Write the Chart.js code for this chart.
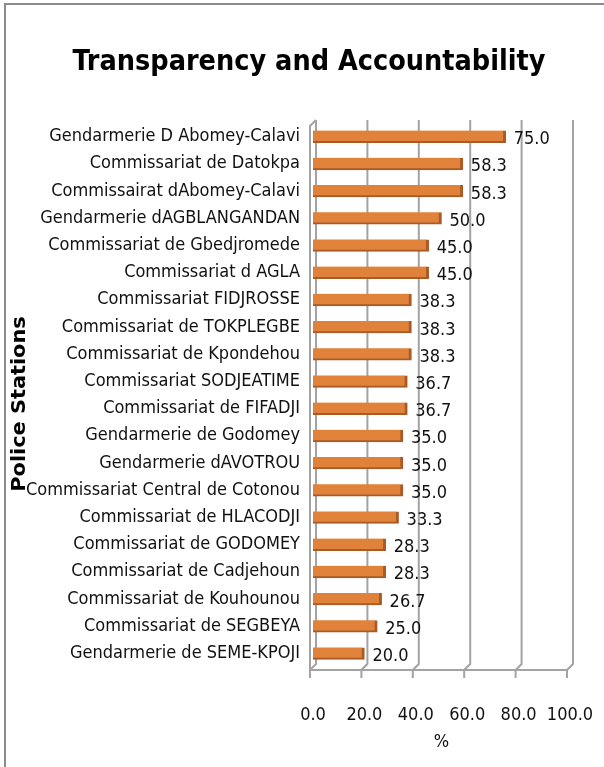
<!DOCTYPE html>
<html>
<head>
<meta charset="utf-8">
<script src="https://cdn.jsdelivr.net/npm/chart.js@4.4.0/dist/chart.umd.min.js"></script>
<style>
  html, body { margin: 0; padding: 0; background: #fff; }
  #wrap { width: 604px; height: 767px; }
</style>
</head>
<body>
<div id="wrap"><canvas id="myChart"></canvas></div>
<script>
var stations = [
  'Gendarmerie D Abomey-Calavi',
  'Commissariat de Datokpa',
  'Commissairat dAbomey-Calavi',
  'Gendarmerie dAGBLANGANDAN',
  'Commissariat de Gbedjromede',
  'Commissariat d AGLA',
  'Commissariat FIDJROSSE',
  'Commissariat de TOKPLEGBE',
  'Commissariat de Kpondehou',
  'Commissariat SODJEATIME',
  'Commissariat de FIFADJI',
  'Gendarmerie de Godomey',
  'Gendarmerie dAVOTROU',
  'Commissariat Central de Cotonou',
  'Commissariat de HLACODJI',
  'Commissariat de GODOMEY',
  'Commissariat de Cadjehoun',
  'Commissariat de Kouhounou',
  'Commissariat de SEGBEYA',
  'Gendarmerie de SEME-KPOJI'
];
var scores = [75.0, 58.3, 58.3, 50.0, 45.0, 45.0, 38.3, 38.3, 38.3, 36.7,
              36.7, 35.0, 35.0, 35.0, 33.3, 28.3, 28.3, 26.7, 25.0, 20.0];
var xTicks = [0, 20, 40, 60, 80, 100];
var chartTitle = 'Transparency and Accountability';
var yTitle = 'Police Stations';

var FONT = "'Liberation Sans Narrow', 'DejaVu Sans Condensed', sans-serif";
var GRID = '#a3a3a3';
var DEPTH = 3;

// frame, titles, 3d walls/floor and value labels
var excelLook = {
  id: 'excelLook',
  beforeDraw: function(chart) {
    var c = chart.ctx;
    c.save();
    c.strokeStyle = '#8c8c8c';
    c.lineWidth = 2;
    c.beginPath();
    c.moveTo(5, 767);
    c.lineTo(5, 4);
    c.lineTo(604, 4);
    c.stroke();

    c.fillStyle = '#000';
    c.textAlign = 'center';
    c.textBaseline = 'middle';
    c.font = 'bold 28.5px ' + FONT;
    c.fillText(chartTitle, 309, 63);

    // axis title, stretched along its length like the original
    c.translate(20, 404);
    c.rotate(-Math.PI / 2);
    c.scale(1.22, 1);
    c.font = 'bold 19px ' + FONT;
    c.fillText(yTitle, 0, 0);
    c.restore();
  },
  beforeDatasetsDraw: function(chart) {
    var c = chart.ctx, a = chart.chartArea, sx = chart.scales.x;
    var top = a.top, bot = a.bottom;
    c.save();
    c.strokeStyle = GRID;
    c.lineWidth = 2;
    xTicks.forEach(function(v) {
      var x = sx.getPixelForValue(v);
      c.beginPath();
      c.moveTo(x + DEPTH, top - DEPTH);
      c.lineTo(x + DEPTH, bot - DEPTH);
      c.lineTo(x - DEPTH, bot + DEPTH);
      c.lineTo(x - DEPTH, bot + DEPTH + 8);
      c.stroke();
    });
    var x0 = sx.getPixelForValue(0), x1 = sx.getPixelForValue(100);
    c.beginPath();
    c.moveTo(x0 - DEPTH, bot + DEPTH);
    c.lineTo(x1 - DEPTH, bot + DEPTH);
    c.stroke();
    // left wall
    c.beginPath();
    c.moveTo(x0 - DEPTH, bot + DEPTH);
    c.lineTo(x0 - DEPTH, top + DEPTH);
    c.lineTo(x0 + DEPTH, top - DEPTH);
    c.stroke();
    c.restore();
  },
  afterDatasetsDraw: function(chart) {
    var c = chart.ctx;
    var meta = chart.getDatasetMeta(0);
    c.save();
    c.fillStyle = '#111';
    c.font = '18px ' + FONT;
    c.textAlign = 'left';
    c.textBaseline = 'middle';
    meta.data.forEach(function(bar, i) {
      c.fillText(scores[i].toFixed(1), bar.x + 8, bar.y + 3);
    });
    c.restore();
  }
};

var ctx = document.getElementById('myChart').getContext('2d');
var myChart = new Chart(ctx, {
  type: 'bar',
  data: {
    labels: stations,
    datasets: [{
      label: chartTitle,
      data: scores,
      backgroundColor: '#e0823a',
      borderColor: '#a95a26',
      borderWidth: { top: 0, right: 3, bottom: 2, left: 0 },
      borderSkipped: false,
      barThickness: 12
    }]
  },
  options: {
    indexAxis: 'y',
    responsive: true,
    maintainAspectRatio: false,
    animation: false,
    layout: { padding: { top: 123, right: 34, bottom: 0, left: 0 } },
    plugins: {
      legend: { display: false },
      tooltip: { enabled: false },
      title: { display: false }
    },
    scales: {
      x: {
        min: 0,
        max: 100,
        afterFit: function(s) {
          s.height = 100;
          s.paddingLeft = 0;
          s.paddingRight = 0;
        },
        afterBuildTicks: function(s) {
          s.ticks = xTicks.map(function(v) { return { value: v }; });
        },
        grid: { display: false, drawTicks: false },
        border: { display: false },
        ticks: {
          padding: 38,
          maxRotation: 0,
          minRotation: 0,
          color: '#111',
          font: { family: FONT, size: 18 },
          callback: function(v) { return Number(v).toFixed(1); }
        },
        title: {
          display: true,
          text: '%',
          color: '#111',
          font: { family: FONT, size: 18 },
          padding: { top: 0, bottom: 14 }
        }
      },
      y: {
        afterFit: function(s) {
          s.width = 313;
          s.paddingTop = 0;
          s.paddingBottom = 0;
        },
        grid: { display: false, drawTicks: false },
        border: { display: false },
        ticks: {
          padding: 13,
          color: '#111',
          autoSkip: false,
          font: { family: FONT, size: 18 }
        }
      }
    }
  },
  plugins: [excelLook]
});
</script>
</body>
</html>
